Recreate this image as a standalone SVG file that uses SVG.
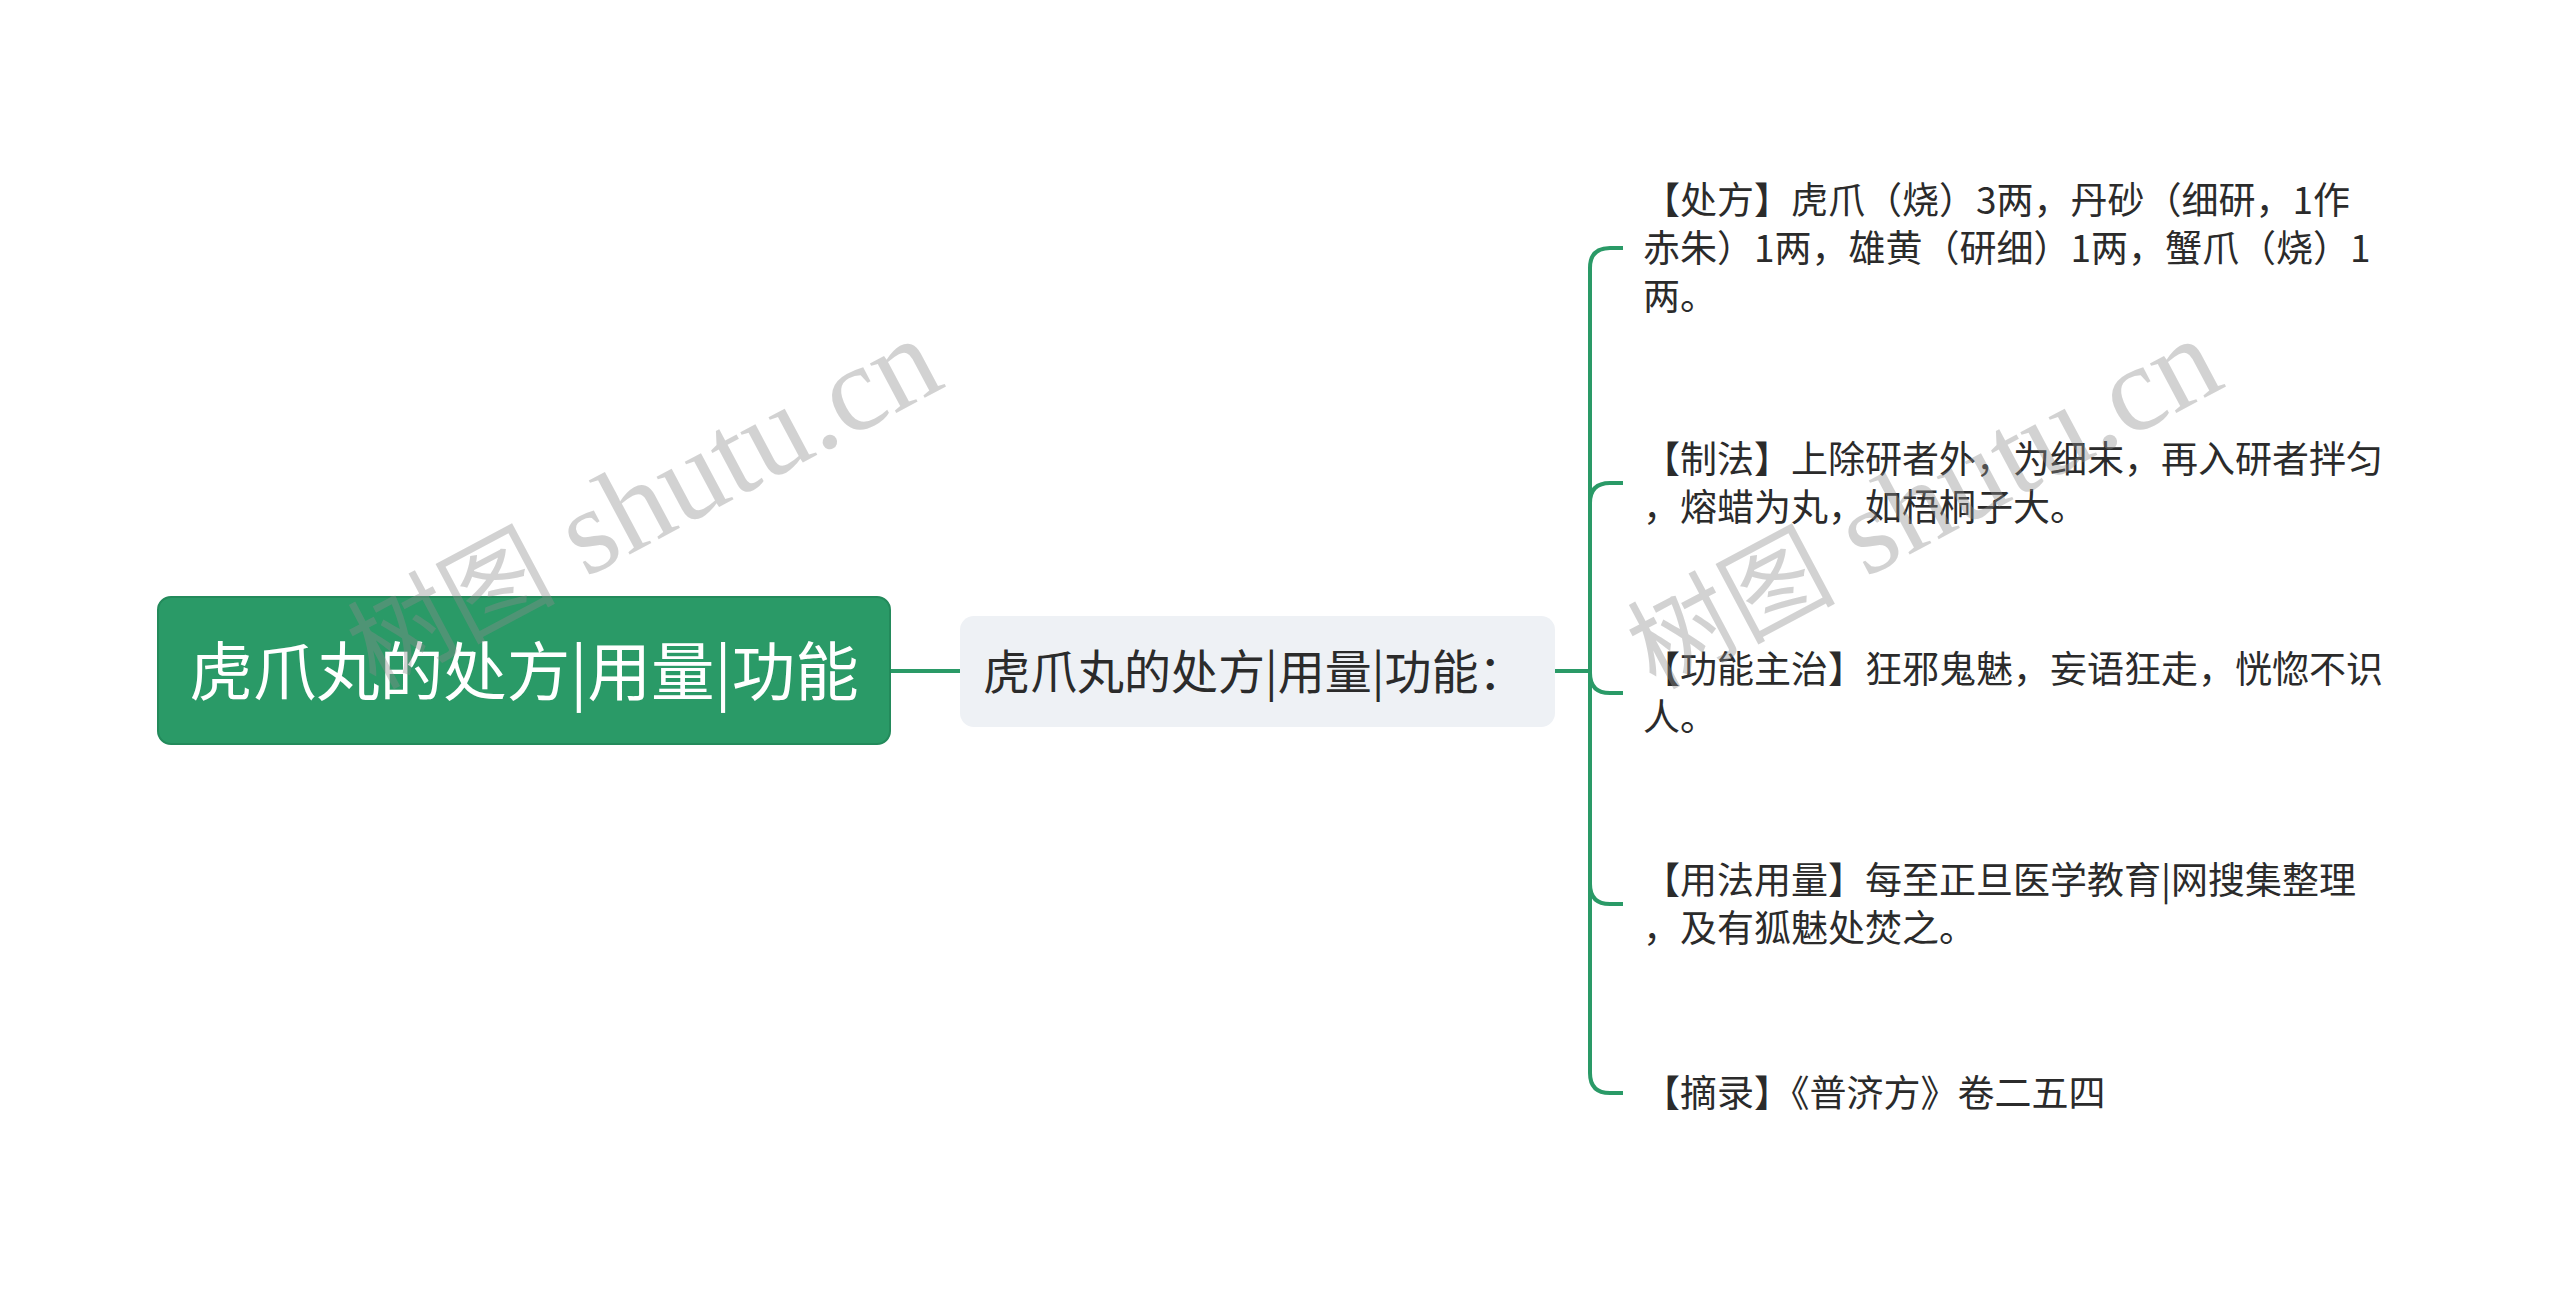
<svg xmlns="http://www.w3.org/2000/svg" width="2560" height="1295" viewBox="0 0 2560 1295">
<style>
.conn{fill:none;stroke:#2a9a67;stroke-width:4}
.leaf{font-family:"Noto Sans CJK SC","Noto Sans",sans-serif;font-size:37px;fill:#2b2b2b}
.wm{font-family:"Liberation Serif","Noto Sans CJK SC",serif;font-size:122px;fill:#8c8c8c;opacity:0.38}
.wmc{font-size:104px}
</style>
<rect width="2560" height="1295" fill="#ffffff"/>
<g id="connectors">
<path class="conn" d="M890 671 L960 671"/>
<path class="conn" d="M1555 671 L1590 671 L1590 268 Q1590 248 1610 248 L1623 248"/>
<path class="conn" d="M1555 671 L1590 671 L1590 503 Q1590 483 1610 483 L1623 483"/>
<path class="conn" d="M1555 671 L1590 671 L1590 673 Q1590 693 1610 693 L1623 693"/>
<path class="conn" d="M1555 671 L1590 671 L1590 884 Q1590 904 1610 904 L1623 904"/>
<path class="conn" d="M1555 671 L1590 671 L1590 1073 Q1590 1093 1610 1093 L1623 1093"/>
</g>
<g id="root">
<rect x="158" y="597" width="732" height="147" rx="13" fill="#2a9a67" stroke="#238a5b" stroke-width="2"/>
<text x="524" y="695" text-anchor="middle" font-family="'Noto Sans CJK SC','Noto Sans',sans-serif" font-size="63.5" fill="#ffffff">虎爪丸的处方|用量|功能</text>
</g>
<g id="middle">
<rect x="960" y="616" width="595" height="111" rx="14" fill="#eef1f5"/>
<text x="983" y="689" font-family="'Noto Sans CJK SC','Noto Sans',sans-serif" font-size="47" fill="#2b2b2b">虎爪丸的处方|用量|功能：</text>
</g>
<g id="leaf1">
<text class="leaf"><tspan x="1643" y="214">【处方】虎爪（烧）3两，丹砂（细研，1作</tspan><tspan x="1643" y="262">赤朱）1两，雄黄（研细）1两，蟹爪（烧）1</tspan><tspan x="1643" y="310">两。</tspan></text>
</g>
<g id="leaf2">
<text class="leaf"><tspan x="1643" y="473">【制法】上除研者外，为细末，再入研者拌匀</tspan><tspan x="1643" y="521">，熔蜡为丸，如梧桐子大。</tspan></text>
</g>
<g id="leaf3">
<text class="leaf"><tspan x="1643" y="683">【功能主治】狂邪鬼魅，妄语狂走，恍惚不识</tspan><tspan x="1643" y="731">人。</tspan></text>
</g>
<g id="leaf4">
<text class="leaf"><tspan x="1643" y="894">【用法用量】每至正旦医学教育|网搜集整理</tspan><tspan x="1643" y="942">，及有狐魅处焚之。</tspan></text>
</g>
<g id="leaf5">
<text class="leaf"><tspan x="1643" y="1107">【摘录】《普济方》卷二五四</tspan></text>
</g>
<g id="watermarks">
<text class="wm" transform="translate(375 690) rotate(-28)"><tspan class="wmc">树图</tspan> shutu.cn</text>
<text class="wm" transform="translate(1655 690) rotate(-28)"><tspan class="wmc">树图</tspan> shutu.cn</text>
</g>
</svg>
